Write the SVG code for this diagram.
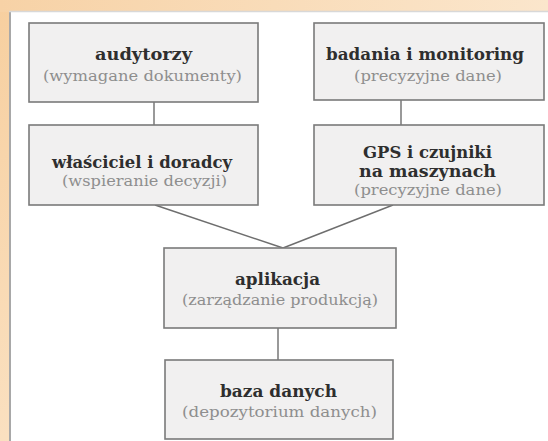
<svg xmlns="http://www.w3.org/2000/svg" width="548" height="441" viewBox="0 0 548 441">
<defs>
<linearGradient id="bg" x1="0" y1="0" x2="1" y2="1">
<stop offset="0" stop-color="#f7cf9f"/>
<stop offset="0.5" stop-color="#fae0c0"/>
<stop offset="1" stop-color="#fcecd8"/>
</linearGradient>
<linearGradient id="topband" x1="0" y1="0" x2="1" y2="0">
<stop offset="0" stop-color="#f7d2a6"/>
<stop offset="1" stop-color="#fbe6cc"/>
</linearGradient>
<style>
.box{fill:#f1f0f0;stroke:#7a7a7a;stroke-width:1.6}
.t{font-family:"DejaVu Serif",serif;font-weight:bold;font-size:16px;fill:#2e2e2e;text-anchor:middle}
.s{font-family:"DejaVu Serif",serif;font-size:15px;fill:#8e8e8e;text-anchor:middle}
.c{stroke:#6e6e6e;stroke-width:1.4;fill:none}
</style>
</defs>
<rect x="0" y="0" width="548" height="441" fill="url(#bg)"/>
<rect x="0" y="0" width="548" height="12" fill="url(#topband)"/>
<rect x="9" y="11" width="539" height="430" fill="#ffffff"/>
<line x1="10" y1="11" x2="10" y2="441" stroke="#a8a8a8" stroke-width="2"/>
<line x1="9" y1="11.5" x2="548" y2="11.5" stroke="#d8d8d8" stroke-width="1.5"/>
<g id="connectors">
<line class="c" x1="154" y1="102" x2="154" y2="125"/>
<line class="c" x1="401" y1="100" x2="401" y2="125"/>
<line class="c" x1="155" y1="205" x2="283" y2="248"/>
<line class="c" x1="393" y1="205" x2="283" y2="248"/>
<line class="c" x1="278" y1="328" x2="278" y2="360"/>
</g>
<g id="audytorzy">
<rect class="box" x="29" y="23" width="229" height="79"/>
<text class="t" x="143.5" y="60" textLength="97" lengthAdjust="spacingAndGlyphs">audytorzy</text>
<text class="s" x="142.5" y="81" textLength="199" lengthAdjust="spacingAndGlyphs">(wymagane dokumenty)</text>
</g>
<g id="badania">
<rect class="box" x="314" y="23" width="230" height="77"/>
<text class="t" x="425" y="60" textLength="198" lengthAdjust="spacingAndGlyphs">badania i monitoring</text>
<text class="s" x="428" y="81" textLength="148" lengthAdjust="spacingAndGlyphs">(precyzyjne dane)</text>
</g>
<g id="wlasciciel">
<rect class="box" x="29" y="125" width="229" height="80"/>
<text class="t" x="142" y="168" textLength="180" lengthAdjust="spacingAndGlyphs">właściciel i doradcy</text>
<text class="s" x="144.5" y="186" textLength="165" lengthAdjust="spacingAndGlyphs">(wspieranie decyzji)</text>
</g>
<g id="gps">
<rect class="box" x="314" y="125" width="230" height="80"/>
<text class="t" x="427.5" y="158" textLength="129" lengthAdjust="spacingAndGlyphs">GPS i czujniki</text>
<text class="t" x="427.5" y="177" textLength="137" lengthAdjust="spacingAndGlyphs">na maszynach</text>
<text class="s" x="428" y="195" textLength="148" lengthAdjust="spacingAndGlyphs">(precyzyjne dane)</text>
</g>
<g id="aplikacja">
<rect class="box" x="164" y="248" width="232" height="80"/>
<text class="t" x="277.5" y="285" textLength="85" lengthAdjust="spacingAndGlyphs">aplikacja</text>
<text class="s" x="280" y="305" textLength="196" lengthAdjust="spacingAndGlyphs">(zarządzanie produkcją)</text>
</g>
<g id="baza">
<rect class="box" x="165" y="360" width="228" height="79"/>
<text class="t" x="278.5" y="397" textLength="117" lengthAdjust="spacingAndGlyphs">baza danych</text>
<text class="s" x="279.5" y="417" textLength="195" lengthAdjust="spacingAndGlyphs">(depozytorium danych)</text>
</g>
</svg>
